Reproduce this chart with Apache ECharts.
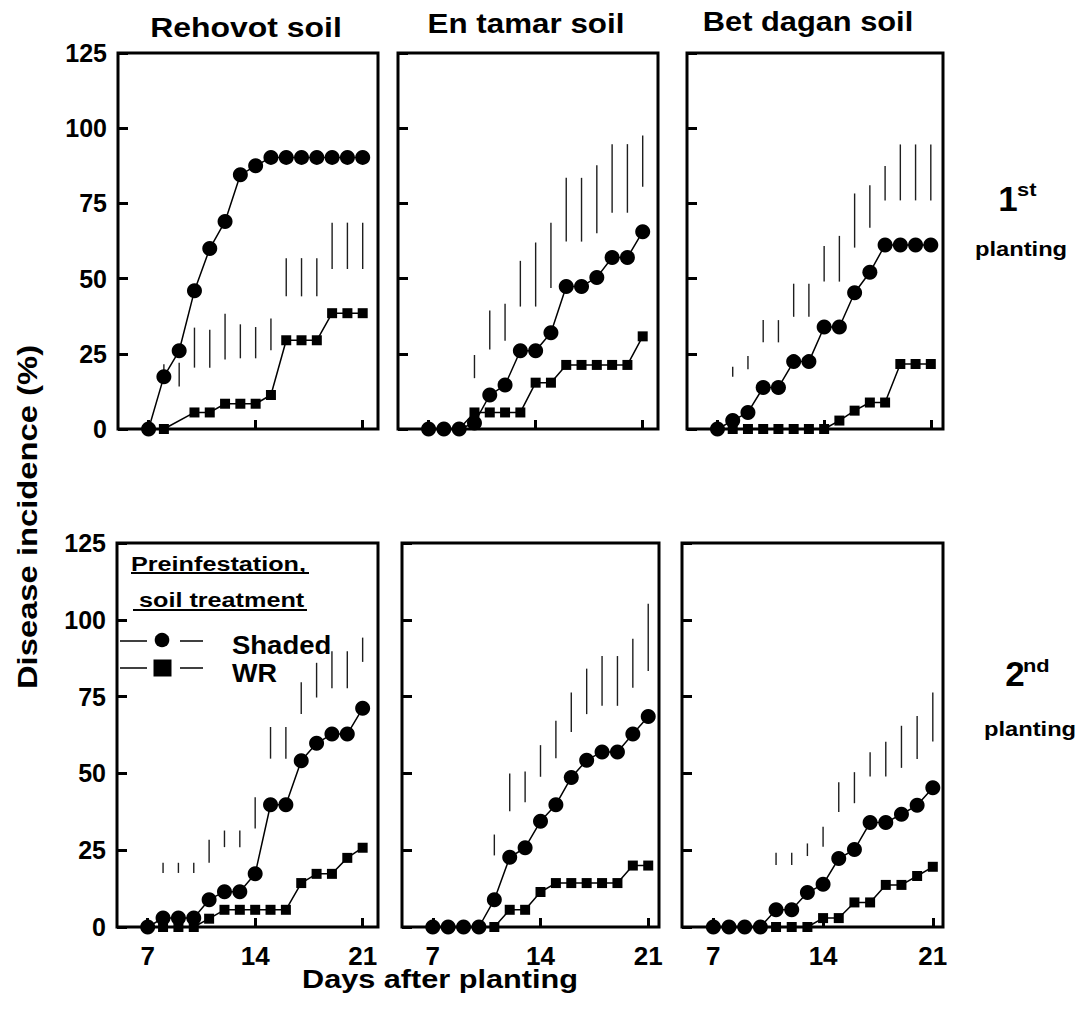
<!DOCTYPE html>
<html>
<head>
<meta charset="utf-8">
<script src="https://cdn.jsdelivr.net/npm/echarts@6/dist/echarts.min.js"></script>
<style>
html,body{margin:0;padding:0;background:#fff;}
#chart{width:1084px;height:1018px;}
</style>
</head>
<body>
<div id="chart"></div>
<script>
// ---- DATA ----
const days = [7, 8, 9, 10, 11, 12, 13, 14, 15, 16, 17, 18, 19, 20, 21];
const xTicks = [7, 14, 21];
const soilTitles = ['Rehovot soil', 'En tamar soil', 'Bet dagan soil'];
const seriesNames = ['Shaded', 'WR'];

// 1st planting
const rehovot1Shaded = [0, 17.4, 26, 46, 60, 69, 84.5, 87.5, 90.3, 90.3, 90.3, 90.3, 90.3, 90.3, 90.3];
const rehovot1WR     = [0, 0, null, 5.5, 5.5, 8.4, 8.4, 8.4, 11.3, 29.5, 29.5, 29.5, 38.5, 38.5, 38.5];
const rehovot1LsdLow = [null, 18, 14.1, 20.4, 20.4, 23.1, 23.5, 23.5, 26.2, 44.1, 44.1, 44.1, 53.2, 53.2, 53.2];
const rehovot1LsdHigh= [null, 21.5, 22.0, 33.7, 33.0, 38.3, 34.8, 33.9, 36.7, 56.8, 56.8, 56.8, 68.6, 68.6, 68.6];

const entamar1Shaded = [0, 0, 0, 2.0, 11.3, 14.6, 26, 26, 32, 47.4, 47.4, 50.4, 57, 57, 65.6];
const entamar1WR     = [0, 0, 0, 5.5, 5.5, 5.5, 5.5, 15.4, 15.4, 21.3, 21.3, 21.3, 21.3, 21.3, 30.8];
const entamar1LsdLow = [null, null, null, 16.9, 26.4, 29.3, 40.7, 40.7, 46.9, 62.3, 62.3, 65.1, 71.9, 71.9, 80.5];
const entamar1LsdHigh= [null, null, null, 24.6, 39.4, 41.6, 55.9, 62.0, 68.6, 83.5, 83.5, 87.7, 94.7, 94.7, 97.6];

const betdagan1Shaded = [0, 2.8, 5.5, 13.8, 13.8, 22.4, 22.4, 33.9, 33.9, 45.3, 52.1, 61.2, 61.2, 61.2, 61.2];
const betdagan1WR     = [0, 0, 0, 0, 0, 0, 0, 0, 2.8, 6.1, 8.8, 8.8, 21.6, 21.6, 21.6];
const betdagan1LsdLow = [null, 17.4, 19.9, 28.8, 28.8, 37.3, 37.3, 49.0, 49.0, 60.3, 66.9, 76.0, 76.0, 76.0, 76.0];
const betdagan1LsdHigh= [null, 20.7, 24.3, 36.2, 36.2, 48.3, 48.3, 60.8, 64.2, 78.3, 81.0, 87.4, 94.6, 94.6, 94.6];

// 2nd planting
const rehovot2Shaded = [0, 2.9, 2.9, 2.9, 8.9, 11.5, 11.5, 17.3, 39.8, 39.8, 54.1, 59.8, 62.8, 62.8, 71.2];
const rehovot2WR     = [0, 0, 0, 0, 2.7, 5.6, 5.6, 5.6, 5.6, 5.6, 14.3, 17.3, 17.3, 22.5, 25.8];
const rehovot2LsdLow = [null, 17.6, 17.6, 17.6, 20.9, 26.0, 26.0, 32.1, 54.8, 54.8, 69.3, 74.7, 77.7, 77.7, 86.3];
const rehovot2LsdHigh= [null, 20.9, 20.9, 20.9, 28.4, 31.4, 31.4, 42.2, 65.1, 65.1, 79.7, 86.0, 89.8, 89.8, 94.2];

const entamar2Shaded = [0, 0, 0, 0, 8.9, 22.7, 25.8, 34.4, 39.8, 48.7, 54.3, 57.0, 57.0, 62.8, 68.5];
const entamar2WR     = [0, 0, 0, 0, 0, 5.6, 5.6, 11.4, 14.3, 14.3, 14.3, 14.3, 14.3, 20.0, 20.0];
const entamar2LsdLow = [null, null, null, null, 23.3, 37.7, 40.6, 48.9, 54.9, 63.5, 69.3, 72.0, 72.0, 77.9, 83.3];
const entamar2LsdHigh= [null, null, null, null, 30.1, 50.0, 50.6, 59.2, 67.1, 76.3, 84.1, 88.2, 88.2, 93.8, 105.2];

const betdagan2Shaded = [0, 0, 0, 0, 5.6, 5.6, 11.2, 13.9, 22.3, 25.2, 34.0, 34.0, 36.7, 39.6, 45.3];
const betdagan2WR     = [0, 0, 0, 0, 0, 0, 0, 2.9, 2.9, 8.0, 8.0, 13.7, 13.7, 16.6, 19.6];
const betdagan2LsdLow = [null, null, null, null, 20.2, 20.2, 23.1, 26.1, 37.4, 40.3, 49.0, 49.0, 51.8, 54.7, 60.4];
const betdagan2LsdHigh= [null, null, null, null, 24.2, 24.2, 27.2, 32.6, 47.1, 50.4, 56.9, 60.3, 65.5, 68.7, 76.3];

// ---- LAYOUT ----
const FONT = '"Liberation Sans", Arial, Helvetica, sans-serif';
const panels = [
  {shaded: rehovot1Shaded,  wr: rehovot1WR,  lo: rehovot1LsdLow,  hi: rehovot1LsdHigh,  rect: {left: 118, top: 53, width: 260, height: 376}, xMax: 22,   yLab: true,  xLab: false},
  {shaded: entamar1Shaded,  wr: entamar1WR,  lo: entamar1LsdLow,  hi: entamar1LsdHigh,  rect: {left: 398, top: 53, width: 260, height: 376}, xMax: 22,   yLab: false, xLab: false},
  {shaded: betdagan1Shaded, wr: betdagan1WR, lo: betdagan1LsdLow, hi: betdagan1LsdHigh, rect: {left: 687, top: 53, width: 256, height: 376}, xMax: 21.8, yLab: false, xLab: false},
  {shaded: rehovot2Shaded,  wr: rehovot2WR,  lo: rehovot2LsdLow,  hi: rehovot2LsdHigh,  rect: {left: 117, top: 543, width: 261, height: 384}, xMax: 22,  yLab: true,  xLab: true},
  {shaded: entamar2Shaded,  wr: entamar2WR,  lo: entamar2LsdLow,  hi: entamar2LsdHigh,  rect: {left: 402, top: 543, width: 257, height: 384}, xMax: 21.7, yLab: false, xLab: true},
  {shaded: betdagan2Shaded, wr: betdagan2WR, lo: betdagan2LsdLow, hi: betdagan2LsdHigh, rect: {left: 682, top: 543, width: 261, height: 384}, xMax: 21.65, yLab: false, xLab: true}
];

const grids = [], xAxes = [], yAxes = [], series = [];

function renderLsd(params, api) {
  const x = api.value(0), lo = api.value(1), hi = api.value(2);
  const a = api.coord([x, lo]);
  const b = api.coord([x, hi]);
  return {
    type: 'line',
    shape: {x1: a[0], y1: a[1], x2: b[0], y2: b[1]},
    style: {stroke: '#1e1e1e', lineWidth: 1.4}
  };
}

panels.forEach((p, i) => {
  grids.push(Object.assign({show: true, borderColor: '#000', borderWidth: 3, backgroundColor: 'transparent', containLabel: false}, p.rect));
  xAxes.push({
    type: 'value', gridIndex: i, min: 5, max: p.xMax,
    axisLine: {show: false},
    splitLine: {show: false},
    axisTick: {show: true, inside: true, length: 9, customValues: xTicks, lineStyle: {color: '#000', width: 3}},
    axisLabel: {show: p.xLab, customValues: xTicks, margin: 16, color: '#000', fontSize: 26, fontWeight: 'bold', fontFamily: FONT}
  });
  yAxes.push({
    type: 'value', gridIndex: i, min: 0, max: 125, interval: 25,
    axisLine: {show: false},
    splitLine: {show: false},
    axisTick: {show: true, inside: true, length: 10, lineStyle: {color: '#000', width: 3}},
    axisLabel: {show: p.yLab, margin: 11, color: '#000', fontSize: 25, fontWeight: 'bold', fontFamily: FONT}
  });
  const lsdData = days.map((d, k) => p.lo[k] == null ? null : [d, p.lo[k], p.hi[k]]).filter(Boolean);
  series.push({
    type: 'custom', name: 'LSD', xAxisIndex: i, yAxisIndex: i, z: 2, clip: false,
    renderItem: renderLsd, encode: {x: 0, y: [1, 2]}, data: lsdData, silent: true
  });
  series.push({
    type: 'line', name: seriesNames[1], xAxisIndex: i, yAxisIndex: i, z: 3, clip: false,
    symbol: 'rect', symbolSize: 10, showAllSymbol: true,
    itemStyle: {color: '#000', borderWidth: 0},
    lineStyle: {color: '#000', width: 1.5},
    data: days.map((d, k) => [d, p.wr[k]]).filter(q => q[1] != null)
  });
  series.push({
    type: 'line', name: seriesNames[0], xAxisIndex: i, yAxisIndex: i, z: 4, clip: false,
    symbol: 'circle', symbolSize: 15, showAllSymbol: true,
    itemStyle: {color: '#000', borderWidth: 0},
    lineStyle: {color: '#000', width: 1.5},
    data: days.map((d, k) => [d, p.shaded[k]]).filter(q => q[1] != null)
  });
});

function txt(text, x, y, size, opts) {
  opts = opts || {};
  return {
    type: 'text', x: x, y: y, scaleX: opts.sx || 1, rotation: opts.rot || 0, z: 10,
    style: {
      text: text, fill: '#000',
      font: 'bold ' + size + 'px ' + FONT,
      align: opts.align || 'center', textAlign: opts.align || 'center',
      verticalAlign: 'middle', textVerticalAlign: 'middle'
    }
  };
}

const graphics = [
  txt(soilTitles[0], 246, 27, 28, {sx: 1.14}),
  txt(soilTitles[1], 526, 23, 28, {sx: 1.12}),
  txt(soilTitles[2], 808, 21, 28, {sx: 1.1}),
  txt('1', 1008, 198, 35),
  txt('st', 1017, 189, 19, {align: 'left', sx: 1.15}),
  txt('planting', 1021, 249, 21, {sx: 1.13}),
  txt('2', 1015, 673, 35),
  txt('nd', 1023, 665, 19, {align: 'left', sx: 1.15}),
  txt('planting', 1030, 729, 21, {sx: 1.13}),
  txt('Disease incidence (%)', 27, 517, 28, {sx: 1.17, rot: Math.PI / 2}),
  txt('Days after planting', 440, 979, 26, {sx: 1.18}),
  // legend block
  txt('Preinfestation,', 131, 564, 21, {align: 'left', sx: 1.2}),
  {type: 'line', z: 10, shape: {x1: 131, y1: 573, x2: 309, y2: 573}, style: {stroke: '#000', lineWidth: 2}},
  txt('soil treatment', 139, 600, 21, {align: 'left', sx: 1.2}),
  {type: 'line', z: 10, shape: {x1: 133, y1: 610, x2: 307, y2: 610}, style: {stroke: '#000', lineWidth: 2}},
  {type: 'line', z: 10, shape: {x1: 120, y1: 641, x2: 147, y2: 641}, style: {stroke: '#000', lineWidth: 1.5}},
  {type: 'circle', z: 10, shape: {cx: 162, cy: 640, r: 7.3}, style: {fill: '#000'}},
  {type: 'line', z: 10, shape: {x1: 180, y1: 641, x2: 203, y2: 641}, style: {stroke: '#000', lineWidth: 1.5}},
  txt(seriesNames[0], 232, 645, 25, {align: 'left', sx: 1.1}),
  {type: 'line', z: 10, shape: {x1: 120, y1: 668, x2: 147, y2: 668}, style: {stroke: '#000', lineWidth: 1.5}},
  {type: 'rect', z: 10, shape: {x: 153.5, y: 659.5, width: 18, height: 17}, style: {fill: '#000'}},
  {type: 'line', z: 10, shape: {x1: 180, y1: 668, x2: 203, y2: 668}, style: {stroke: '#000', lineWidth: 1.5}},
  txt(seriesNames[1], 232, 673, 25, {align: 'left', sx: 1.08})
];

const chart = echarts.init(document.getElementById('chart'), null, {renderer: 'svg'});
chart.setOption({
  animation: false,
  backgroundColor: '#fff',
  textStyle: {fontFamily: FONT},
  grid: grids,
  xAxis: xAxes,
  yAxis: yAxes,
  series: series,
  graphic: graphics
});
</script>
</body>
</html>
